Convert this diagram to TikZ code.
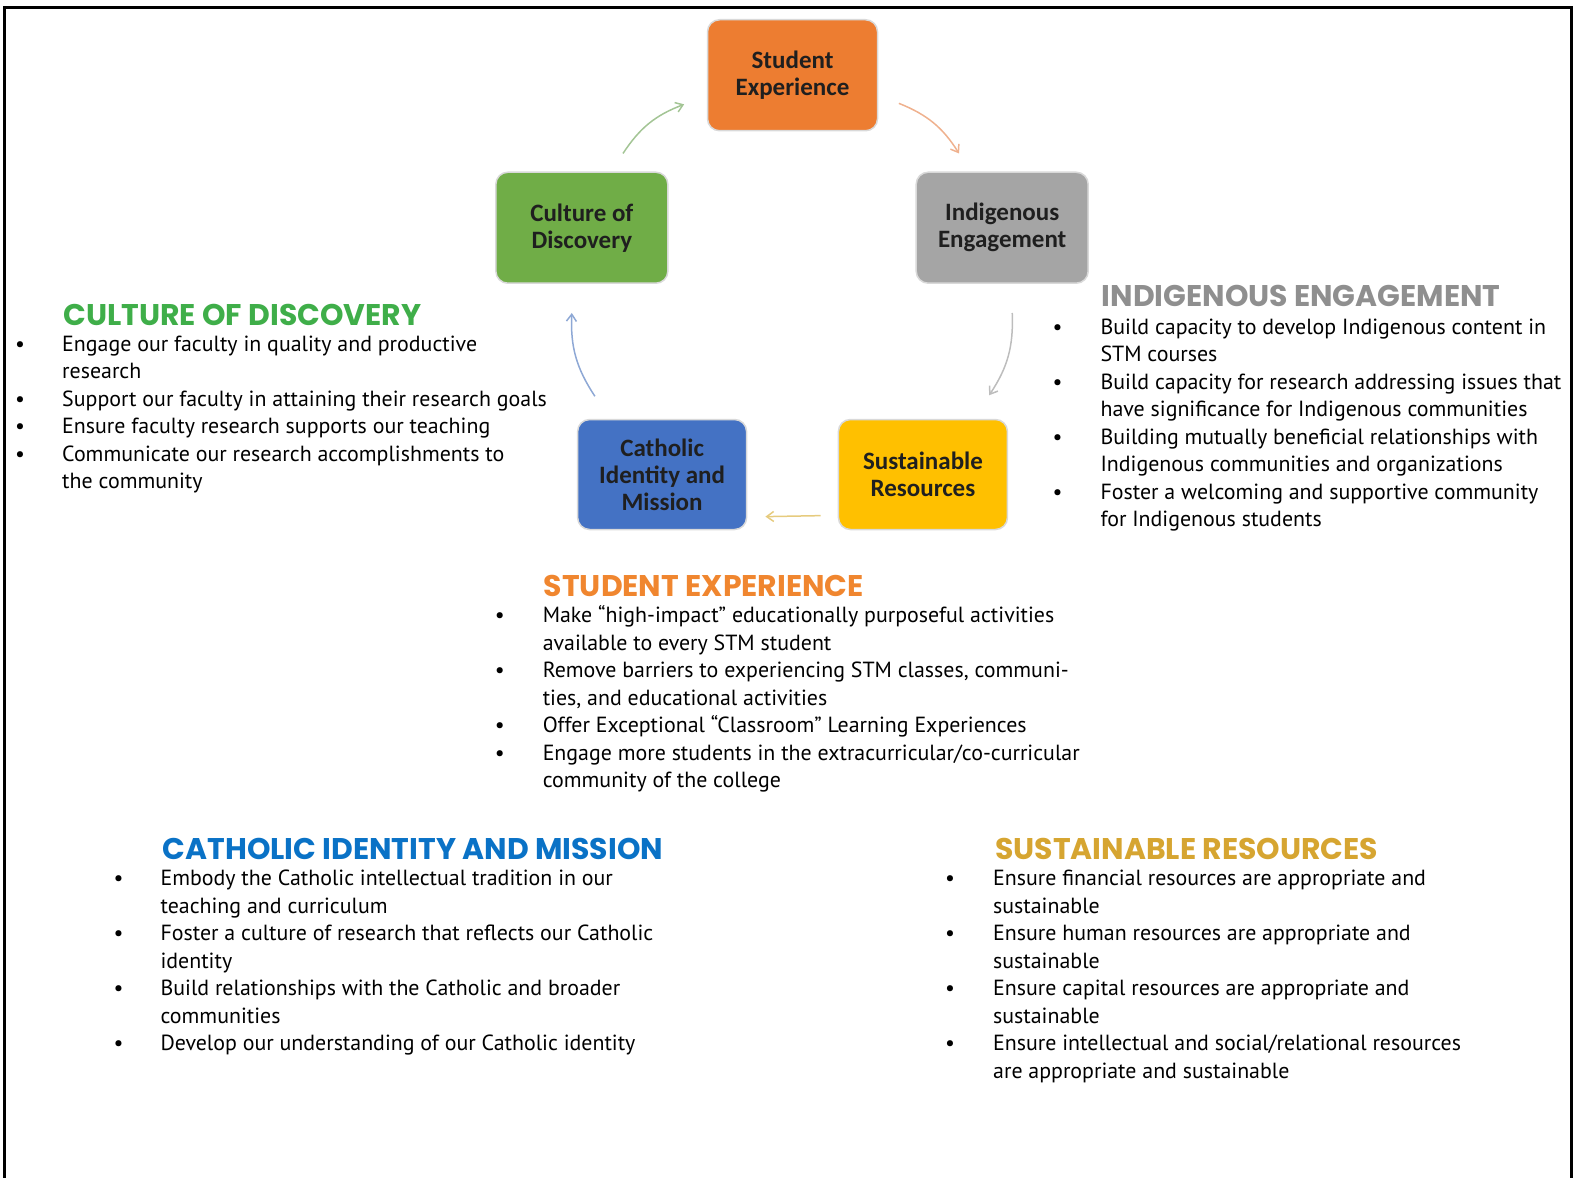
\documentclass[tikz,border=0pt]{standalone}
\usepackage{fontspec}
\setmainfont{PT Sans}
\newfontfamily\headfont{Poppins}
\newfontfamily\boxfont{Carlito}
\usetikzlibrary{arrows.meta}
\definecolor{boxgreen}{HTML}{70AD47}
\definecolor{boxorange}{HTML}{ED7D31}
\definecolor{boxgray}{HTML}{A5A5A5}
\definecolor{boxblue}{HTML}{4472C4}
\definecolor{boxyellow}{HTML}{FFC000}
\definecolor{hgreen}{HTML}{3FAE49}
\definecolor{horange}{HTML}{F0862F}
\definecolor{hgray}{HTML}{8F8F8F}
\definecolor{hblue}{HTML}{0A72C6}
\definecolor{hgold}{HTML}{D6A531}
\definecolor{agreen}{HTML}{A3C595}
\definecolor{aorange}{HTML}{EFB18E}
\definecolor{agray}{HTML}{BDBDBD}
\definecolor{ayellow}{HTML}{E6CB7E}
\definecolor{ablue}{HTML}{8EA8D5}
\begin{document}
\begin{tikzpicture}[x=1.0032pt,y=-1.0032pt,
  boxnode/.style={rounded corners=12pt, draw=black!15, line width=1.5pt,
    minimum width=170pt, minimum height=111pt, inner sep=0pt, align=center,
    font=\boxfont\bfseries\fontsize{25}{27}\selectfont, text=black!88},
  heading/.style={anchor=base west, inner sep=0pt,
    font=\headfont\bfseries\fontsize{29.9}{32}\selectfont},
  bodylist/.style={anchor=base west, inner sep=0pt, align=left,
    font=\fontsize{21.9}{27.5}\selectfont},
  cyc/.style={line width=1.5pt, -{Straight Barb[length=7pt,width=10pt]}, bend left=18}
]
\useasboundingbox (0,0) rectangle (1568,1174.2);
\draw[line width=3pt] (4,1180) -- (4,7) -- (1566,7) -- (1566,1180);

% boxes
\node[boxnode, fill=boxorange] (se) at (790,75) {Student\\Experience};
\node[boxnode, fill=boxgreen, minimum width=172pt] (cd) at (580,227) {Culture of\\Discovery};
\node[boxnode, fill=boxgray, minimum width=172pt] (ie) at (999,227) {Indigenous\\Engagement};
\node[boxnode, fill=boxblue, minimum width=169pt, minimum height=110pt] (cim) at (660,473) {Catholic\\Identity and\\Mission};
\node[boxnode, fill=boxyellow, minimum width=169pt, minimum height=110pt] (sr) at (920,473) {Sustainable\\Resources};

% arrow ends
\coordinate (a1s) at (621,153); \coordinate (a1e) at (682,104);
\coordinate (a2s) at (896,103); \coordinate (a2e) at (956,153);
\coordinate (a3s) at (1009,312); \coordinate (a3e) at (986,394);
\coordinate (a4s) at (818,514); \coordinate (a4e) at (763,515);
\coordinate (a5s) at (593,395); \coordinate (a5e) at (570,312);
\draw[cyc, agreen] (a1s) to (a1e);
\draw[cyc, aorange] (a2s) to (a2e);
\draw[cyc, agray] (a3s) to (a3e);
\draw[cyc, ayellow, bend left=0] (a4s) to (a4e);
\draw[cyc, ablue] (a5s) to (a5e);

% Culture of Discovery
\node[heading, text=hgreen] (hcd) at (63,324) {CULTURE OF DISCOVERY};
\node[bodylist] (lcd) at (15,350) {\begin{tabular}[t]{@{}p{47pt}@{}l@{}}
•& Engage our faculty in quality and productive\\
 & research\\
•& Support our faculty in attaining their research goals\\
•& Ensure faculty research supports our teaching\\
•& Communicate our research accomplishments to\\
 & the community
\end{tabular}};

% Indigenous Engagement
\node[heading, text=hgray] (hie) at (1098,306) {INDIGENOUS ENGAGEMENT};
\node[bodylist] (lie) at (1049,333) {\begin{tabular}[t]{@{}p{48pt}@{}l@{}}
•& Build capacity to develop Indigenous content in\\
 & STM courses\\
•& Build capacity for research addressing issues that\\
 & have significance for Indigenous communities\\
•& Building mutually beneficial relationships with\\
 & Indigenous communities and organizations\\
•& Foster a welcoming and supportive community\\
 & for Indigenous students
\end{tabular}};

% Student Experience
\node[heading, text=horange] (hse) at (542,595) {STUDENT EXPERIENCE};
\node[bodylist] (lse) at (493,621) {\begin{tabular}[t]{@{}p{48pt}@{}l@{}}
•& Make “high-impact” educationally purposeful activities\\
 & available to every STM student\\
•& Remove barriers to experiencing STM classes, communi-\\
 & ties, and educational activities\\
•& Offer Exceptional “Classroom” Learning Experiences\\
•& Engage more students in the extracurricular/co-curricular\\
 & community of the college
\end{tabular}};

% Catholic Identity and Mission
\node[heading, text=hblue] (hcim) at (162,857) {CATHOLIC IDENTITY AND MISSION};
\node[bodylist] (lcim) at (113,883) {\begin{tabular}[t]{@{}p{47pt}@{}l@{}}
•& Embody the Catholic intellectual tradition in our\\
 & teaching and curriculum\\
•& Foster a culture of research that reflects our Catholic\\
 & identity\\
•& Build relationships with the Catholic and broader\\
 & communities\\
•& Develop our understanding of our Catholic identity
\end{tabular}};

% Sustainable Resources
\node[heading, text=hgold] (hsr) at (992,857) {SUSTAINABLE RESOURCES};
\node[bodylist] (lsr) at (942,883) {\begin{tabular}[t]{@{}p{48pt}@{}l@{}}
•& Ensure financial resources are appropriate and\\
 & sustainable\\
•& Ensure human resources are appropriate and\\
 & sustainable\\
•& Ensure capital resources are appropriate and\\
 & sustainable\\
•& Ensure intellectual and social/relational resources\\
 & are appropriate and sustainable
\end{tabular}};
\end{tikzpicture}
\end{document}
